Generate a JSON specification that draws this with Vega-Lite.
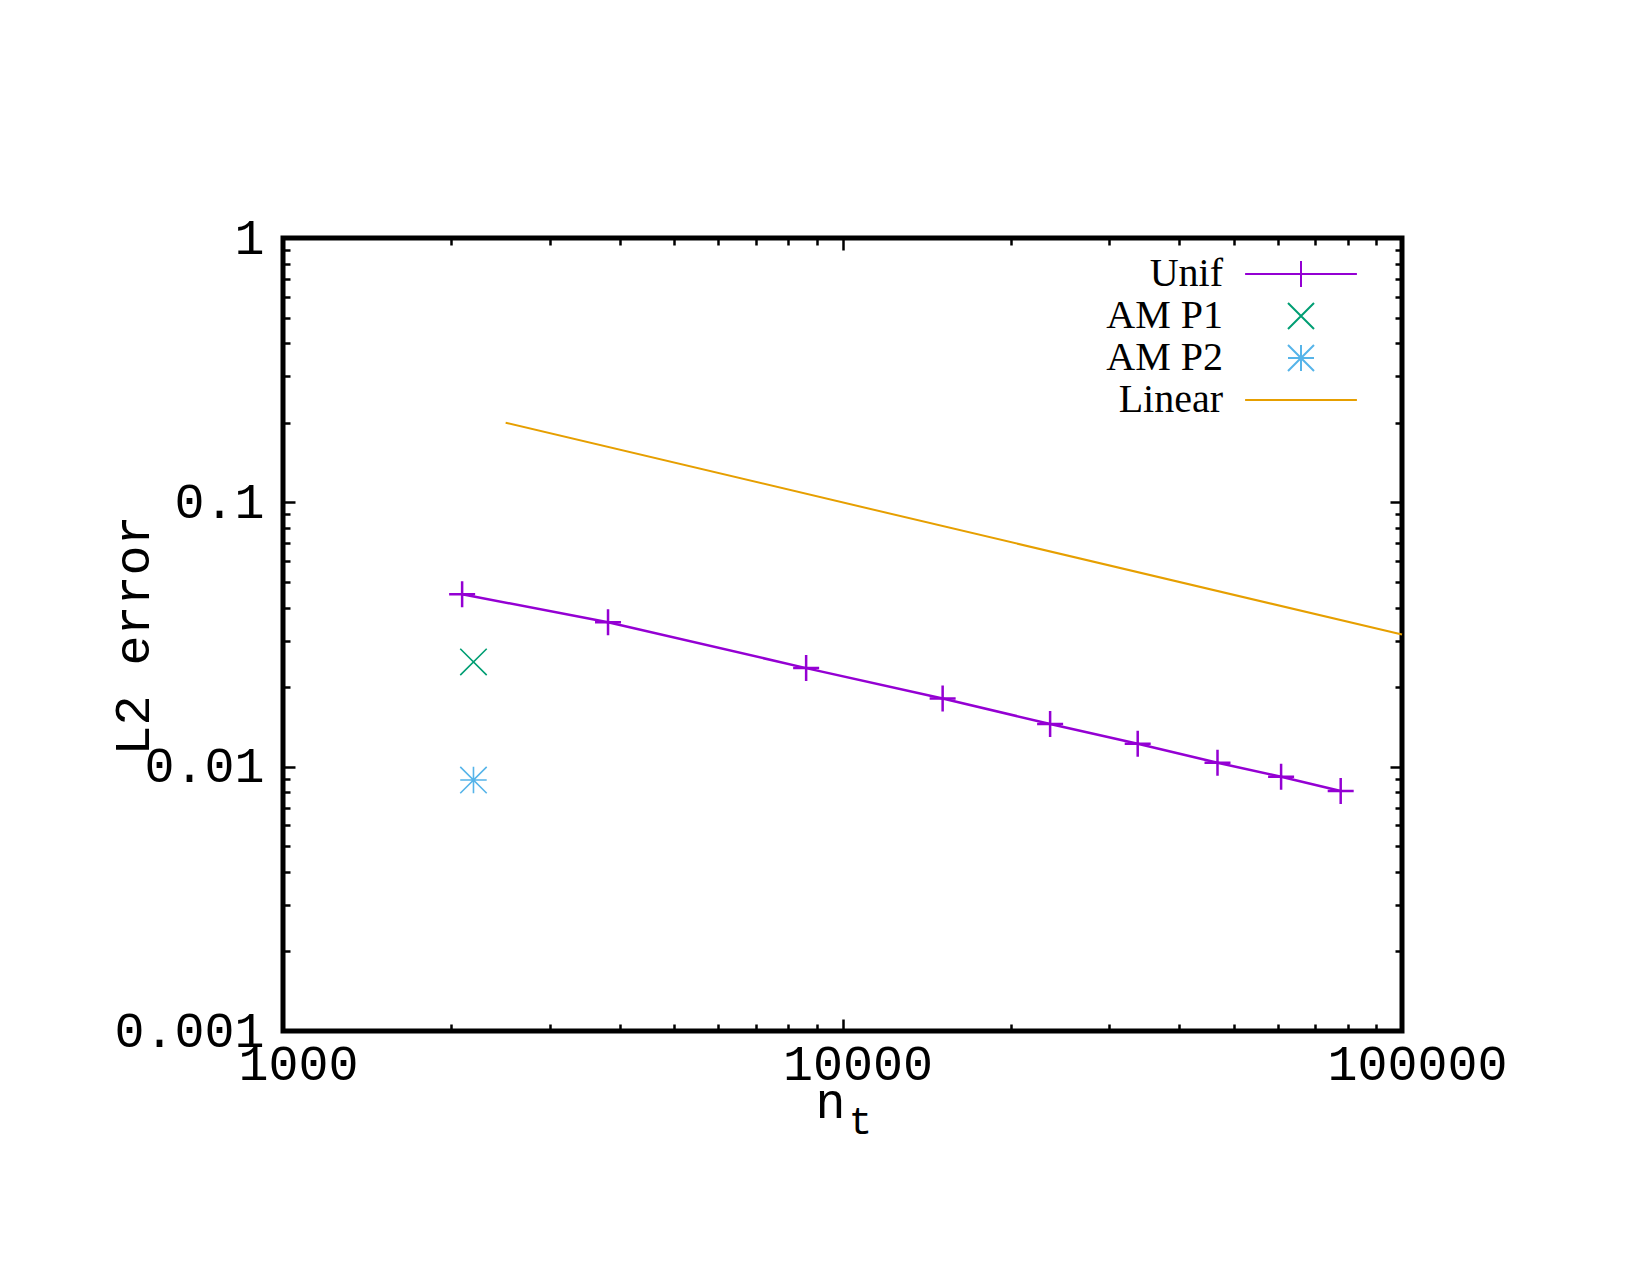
{
  "$schema": "https://vega.github.io/schema/vega-lite/v6.json",
  "width": 1119,
  "height": 793,
  "autosize": {"type": "none"},
  "padding": {"left": 283, "top": 238, "right": 248, "bottom": 244},
  "background": "white",
  "datasets": {
    "unif": [
      {"n": 2090, "err": 0.0449},
      {"n": 3810, "err": 0.0352},
      {"n": 8610, "err": 0.0236},
      {"n": 15100, "err": 0.0181},
      {"n": 23500, "err": 0.0145},
      {"n": 33700, "err": 0.0122},
      {"n": 46800, "err": 0.01035},
      {"n": 60800, "err": 0.00916},
      {"n": 77700, "err": 0.00809}
    ],
    "am": [
      {"series": "AM P1", "n": 2190, "err": 0.0249},
      {"series": "AM P2", "n": 2190, "err": 0.0089}
    ],
    "linear": [
      {"n": 2500, "err": 0.2},
      {"n": 100000, "err": 0.0316}
    ],
    "keys": [
      {"series": "Unif"},
      {"series": "AM P1"},
      {"series": "AM P2"},
      {"series": "Linear"}
    ]
  },
  "layer": [
    {
      "data": {"name": "linear"},
      "mark": {"type": "line", "color": "#E69F00", "strokeWidth": 2},
      "encoding": {
        "x": {
          "field": "n", "type": "quantitative",
          "scale": {"type": "log", "domain": [1000, 100000]},
          "axis": {
            "orient": "bottom",
            "values": [1000, 2000, 3000, 4000, 5000, 6000, 7000, 8000, 9000, 10000, 20000, 30000, 40000, 50000, 60000, 70000, 80000, 90000, 100000],
            "format": "d",
            "labelExpr": "abs(log(datum.value)/LN10 - round(log(datum.value)/LN10)) < 0.001 ? datum.label : ''",
            "tickSize": {"condition": {"test": "abs(log(datum.value)/LN10 - round(log(datum.value)/LN10)) < 0.001", "value": -12}, "value": -7},
            "labelPadding": 20,
            "labelOffset": 15,
            "labelBaseline": "top",
            "title": "n",
            "titleX": 547,
            "titleY": 86,
            "titleAlign": "center",
            "titleBaseline": "alphabetic"
          }
        },
        "y": {
          "field": "err", "type": "quantitative",
          "scale": {"type": "log", "domain": [0.001, 1]},
          "axis": {
            "orient": "left",
            "values": [0.001, 0.002, 0.003, 0.004, 0.005, 0.006, 0.007, 0.008, 0.009, 0.01, 0.02, 0.03, 0.04, 0.05, 0.06, 0.07, 0.08, 0.09, 0.1, 0.2, 0.3, 0.4, 0.5, 0.6, 0.7, 0.8, 0.9, 1],
            "format": "~g",
            "labelExpr": "abs(log(datum.value)/LN10 - round(log(datum.value)/LN10)) < 0.001 ? datum.label : ''",
            "tickSize": {"condition": {"test": "abs(log(datum.value)/LN10 - round(log(datum.value)/LN10)) < 0.001", "value": -12}, "value": -7},
            "labelPadding": 31,
            "labelAlign": "right",
            "labelBaseline": "middle",
            "title": "L2 error",
            "titleX": -150,
            "titleY": 397,
            "titleAngle": -90,
            "titleAlign": "center",
            "titleBaseline": "middle"
          }
        }
      }
    },
    {
      "data": {"name": "unif"},
      "mark": {"type": "line", "color": "#9400D3", "strokeWidth": 2.5},
      "encoding": {
        "x": {
          "field": "n", "type": "quantitative",
          "scale": {"type": "log", "domain": [1000, 100000]},
          "axis": {
            "orient": "top",
            "values": [1000, 2000, 3000, 4000, 5000, 6000, 7000, 8000, 9000, 10000, 20000, 30000, 40000, 50000, 60000, 70000, 80000, 90000, 100000],
            "labels": false,
            "tickSize": {"condition": {"test": "abs(log(datum.value)/LN10 - round(log(datum.value)/LN10)) < 0.001", "value": -12}, "value": -7},
            "title": null
          }
        },
        "y": {
          "field": "err", "type": "quantitative",
          "scale": {"type": "log", "domain": [0.001, 1]},
          "axis": {
            "orient": "right",
            "values": [0.001, 0.002, 0.003, 0.004, 0.005, 0.006, 0.007, 0.008, 0.009, 0.01, 0.02, 0.03, 0.04, 0.05, 0.06, 0.07, 0.08, 0.09, 0.1, 0.2, 0.3, 0.4, 0.5, 0.6, 0.7, 0.8, 0.9, 1],
            "labels": false,
            "tickSize": {"condition": {"test": "abs(log(datum.value)/LN10 - round(log(datum.value)/LN10)) < 0.001", "value": -12}, "value": -7},
            "title": null
          }
        }
      }
    },
    {
      "data": {"name": "unif"},
      "mark": {"type": "point", "filled": false, "shape": "M-1,0L1,0M0,-1L0,1", "size": 676, "color": "#9400D3", "strokeWidth": 2.5, "opacity": 1},
      "encoding": {
        "x": {
          "field": "n", "type": "quantitative",
          "scale": {"type": "log", "domain": [1000, 100000]},
          "axis": {
            "orient": "bottom",
            "ticks": false,
            "labels": false,
            "title": "t",
            "titleFontSize": 39,
            "titleX": 577,
            "titleY": 102,
            "titleAlign": "center",
            "titleBaseline": "alphabetic"
          }
        },
        "y": {
          "field": "err", "type": "quantitative",
          "scale": {"type": "log", "domain": [0.001, 1]},
          "axis": null
        }
      }
    },
    {
      "data": {"name": "am"},
      "transform": [{"filter": "datum.series === 'AM P1'"}],
      "mark": {"type": "point", "filled": false, "shape": "M-1,-1L1,1M-1,1L1,-1", "size": 700, "color": "#009E73", "strokeWidth": 1.6, "opacity": 1},
      "encoding": {
        "x": {"field": "n", "type": "quantitative", "scale": {"type": "log", "domain": [1000, 100000]}, "axis": null},
        "y": {"field": "err", "type": "quantitative", "scale": {"type": "log", "domain": [0.001, 1]}, "axis": null}
      }
    },
    {
      "data": {"name": "am"},
      "transform": [{"filter": "datum.series === 'AM P2'"}],
      "mark": {"type": "point", "filled": false, "shape": "M-1,0L1,0M0,-1L0,1M-1,-1L1,1M-1,1L1,-1", "size": 700, "color": "#56B4E9", "strokeWidth": 1.6, "opacity": 1},
      "encoding": {
        "x": {"field": "n", "type": "quantitative", "scale": {"type": "log", "domain": [1000, 100000]}, "axis": null},
        "y": {"field": "err", "type": "quantitative", "scale": {"type": "log", "domain": [0.001, 1]}, "axis": null}
      }
    },
    {
      "data": {"name": "keys"},
      "mark": {"type": "point", "filled": false, "opacity": 0},
      "encoding": {
        "color": {
          "field": "series", "type": "nominal",
          "scale": {"domain": ["Unif", "AM P1", "AM P2", "Linear"], "range": ["#9400D3", "#009E73", "#56B4E9", "#E69F00"]},
          "legend": {"title": null, "orient": "none", "legendX": 998, "legendY": 16, "padding": 0, "symbolSize": 676, "symbolStrokeWidth": 2, "symbolOpacity": 1, "symbolOffset": 0, "labelFont": "Liberation Serif", "labelFontSize": 40, "labelColor": "black", "labelAlign": "right", "labelOffset": -98, "labelLimit": 0, "rowPadding": 2, "direction": "vertical"}
        },
        "shape": {
          "field": "series", "type": "nominal",
          "scale": {"domain": ["Unif", "AM P1", "AM P2", "Linear"], "range": ["M-4.3,0L4.3,0M0,-1L0,1", "M-1,-1L1,1M-1,1L1,-1", "M-1,0L1,0M0,-1L0,1M-1,-1L1,1M-1,1L1,-1", "M-4.3,0L4.3,0"]},
          "legend": {"title": null, "orient": "none", "legendX": 998, "legendY": 16, "padding": 0, "symbolSize": 676, "symbolStrokeWidth": 2, "symbolOpacity": 1, "symbolOffset": 0, "labelFont": "Liberation Serif", "labelFontSize": 40, "labelColor": "black", "labelAlign": "right", "labelOffset": -98, "labelLimit": 0, "rowPadding": 2, "direction": "vertical"}
        }
      }
    }
  ],
  "resolve": {"axis": {"x": "independent", "y": "independent"}},
  "config": {
    "view": {"stroke": "black", "strokeWidth": 5},
    "axis": {
      "domain": false,
      "grid": false,
      "tickColor": "black",
      "tickWidth": 2.5,
      "labelFont": "Liberation Mono",
      "labelFontSize": 50,
      "labelLimit": 0,
      "labelColor": "black",
      "labelOverlap": false,
      "labelFlush": false,
      "labelBound": false,
      "titleFont": "Liberation Mono",
      "titleFontSize": 50,
      "titleLimit": 0,
      "titleFontWeight": "normal",
      "titleColor": "black"
    }
  }
}
